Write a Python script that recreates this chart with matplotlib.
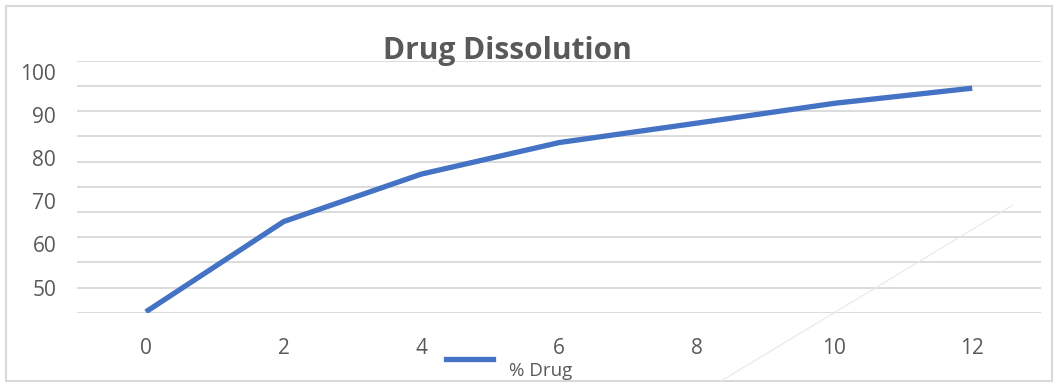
import numpy as np
import matplotlib.pyplot as plt

plt.rcParams['font.family'] = ['Open Sans', 'DejaVu Sans']

time = [0, 2, 4, 6, 8, 10, 12]
drug = [44.4, 65.3, 76.3, 83.6, 88.1, 92.7, 96.2]
ylabels = [50, 60, 70, 80, 90, 100]

grey = "#595959"
fig = plt.figure(figsize=(10.58, 3.85), dpi=100)
ax = fig.add_axes([0.0728, 0.1878, 0.9112, 0.6538])

ax.plot(time, drug, color="#4472c4", lw=3.8, solid_capstyle="butt", zorder=3)

ax.set_xlim(-1, 13)
ax.set_ylim(44.2, 102.5)
ax.set_xticks(time)
ax.set_yticks(ylabels)
ax.set_yticks(np.linspace(44.2, 102.5, 11), minor=True)
ax.grid(which="minor", axis="y", color="#d9d9d9", lw=1.3)
ax.tick_params(which="both", length=0, labelsize=15, labelcolor=grey)
ax.tick_params(axis="x", pad=18)
ax.tick_params(axis="y", pad=15)
for s in ax.spines.values():
    s.set_visible(False)

fig.text(0.48, 0.868, "Drug Dissolution", ha="center", va="center",
         fontsize=21.5, fontweight="bold", color=grey)

# legend
fig.add_artist(plt.Line2D([0.4215, 0.466], [0.068, 0.068], color="#4472c4", lw=3.8))
fig.text(0.481, 0.037, "% Drug", ha="left", va="center", fontsize=13.5, color=grey)

# faint stray stroke
fig.add_artist(plt.Line2D([0.68, 0.957], [0.008, 0.467], color="#e8e8e8", lw=0.8))

# chart border
fig.add_artist(plt.Rectangle((0.006, 0.01), 0.988, 0.975, fill=False,
                             edgecolor="#d9d9d9", lw=1.5))

fig.savefig("out.png")
